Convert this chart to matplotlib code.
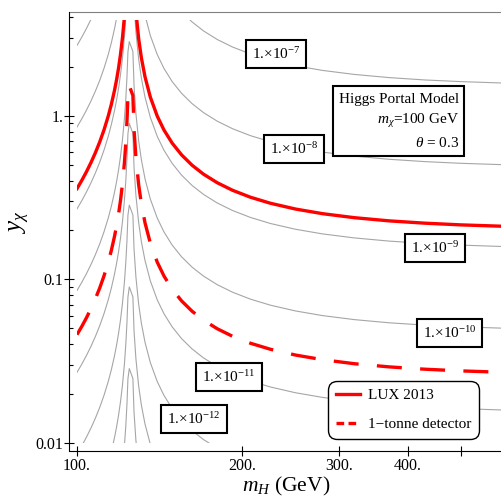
import matplotlib
matplotlib.use("Agg")
import matplotlib.pyplot as plt
from matplotlib.lines import Line2D
from matplotlib.patches import Rectangle
from matplotlib.ticker import FixedLocator, FixedFormatter, NullFormatter

plt.rcParams['font.family'] = ['Liberation Serif', 'DejaVu Serif']
plt.rcParams['mathtext.fontset'] = 'custom'
plt.rcParams['mathtext.rm'] = 'Liberation Serif'
plt.rcParams['mathtext.it'] = 'Liberation Serif:italic'

m_left = [100, 102, 104, 106, 108, 110, 112, 114, 115.5, 117, 118, 119, 120,
          121, 122, 122.7, 123.3, 123.8]
m_apex = [124.5, 126.4]
m_right = [127, 128, 129.5, 131, 133, 136, 140, 144, 149, 155, 162, 170, 180,
           192, 207, 225, 250, 280, 320, 370, 430, 500, 600]

# iso cross-section contours, y_chi values (left branch, apex, right branch)
c7 = ([2.694, 3.020, 3.409, 3.880, 4.463, 5.202, 6.171, 7.492, 8.850, 10.72, 12.41,
       14.66, 17.82, 22.55, 30.45, 40.05, 54.59, 77.79],
      [89.7, 78.1],
      [48.50, 32.72, 22.19, 16.93, 12.99, 9.764, 7.473, 6.149, 5.117, 4.335, 3.746,
       3.300, 2.927, 2.631, 2.386, 2.192, 2.021, 1.893, 1.789, 1.711, 1.655, 1.617, 1.584])
c8 = ([0.8528, 0.9559, 1.0789, 1.2281, 1.4125, 1.6465, 1.9530, 2.3712, 2.8009, 3.3915,
       3.9268, 4.640, 5.639, 7.138, 9.636, 12.68, 17.28, 24.62],
      [28.4, 24.7],
      [15.35, 10.354, 7.024, 5.360, 4.111, 3.090, 2.365, 1.946, 1.619, 1.372, 1.1855,
       1.0443, 0.9265, 0.8326, 0.7550, 0.6938, 0.6396, 0.5991, 0.5661, 0.5415, 0.5240,
       0.5117, 0.5015])
c9 = ([0.2694, 0.3020, 0.3409, 0.3880, 0.4463, 0.5202, 0.6171, 0.7492, 0.8850, 1.072,
       1.241, 1.466, 1.782, 2.255, 3.045, 4.005, 5.459, 7.779],
      [8.97, 7.81],
      [4.850, 3.272, 2.219, 1.693, 1.299, 0.9764, 0.7473, 0.6149, 0.5117, 0.4335, 0.3746,
       0.3300, 0.2927, 0.2631, 0.2386, 0.2192, 0.2021, 0.1893, 0.1789, 0.1711, 0.1655,
       0.1617, 0.1584])
c10 = ([0.08528, 0.09559, 0.10789, 0.12281, 0.14125, 0.16465, 0.19530, 0.23712, 0.28009,
        0.33915, 0.39268, 0.4640, 0.5639, 0.7138, 0.9636, 1.268, 1.728, 2.462],
       [2.84, 2.47],
       [1.535, 1.0354, 0.7024, 0.5360, 0.4111, 0.3090, 0.2365, 0.1946, 0.1619, 0.1372,
        0.11855, 0.10443, 0.09265, 0.08326, 0.07550, 0.06938, 0.06396, 0.05991, 0.05661,
        0.05415, 0.05240, 0.05117, 0.05015])
c11 = ([0.02694, 0.03020, 0.03409, 0.03880, 0.04463, 0.05202, 0.06171, 0.07492, 0.08850,
        0.1072, 0.1241, 0.1466, 0.1782, 0.2255, 0.3045, 0.4005, 0.5459, 0.7779],
       [0.897, 0.780],
       [0.4850, 0.3272, 0.2219, 0.1693, 0.1299, 0.09764, 0.07473, 0.06149, 0.05117,
        0.04335, 0.03746, 0.03300, 0.02927, 0.02631, 0.02386, 0.02192, 0.02021, 0.01893,
        0.01789, 0.01711, 0.01655, 0.01617, 0.01584])
c12 = ([0.008528, 0.009559, 0.010789, 0.012281, 0.014125, 0.016465, 0.019530, 0.023712,
        0.028009, 0.033915, 0.039268, 0.04640, 0.05639, 0.07138, 0.09636, 0.1268,
        0.1728, 0.2462],
       [0.284, 0.247],
       [0.1535, 0.10354, 0.07024, 0.05360, 0.04111, 0.03090, 0.02365, 0.01946, 0.01619,
        0.01372, 0.011855, 0.010443, 0.009265, 0.008326, 0.00755, 0.006938, 0.006396,
        0.005991, 0.005661, 0.005415, 0.00524, 0.005117, 0.005015])
c13 = ([0.002694, 0.00302, 0.003409, 0.00388, 0.004463, 0.005202, 0.006171, 0.007492,
        0.00885, 0.01072, 0.01241, 0.01466, 0.01782, 0.02255, 0.03045, 0.04005, 0.05459,
        0.07779],
       [0.0897, 0.078],
       [0.0485, 0.03272, 0.02219, 0.01693, 0.01299, 0.009764, 0.007473, 0.006149,
        0.005117, 0.004335, 0.003746, 0.0033, 0.002927, 0.002631, 0.002386, 0.002192,
        0.002021, 0.001893, 0.001789, 0.001711, 0.001655, 0.001617, 0.001584])
c14 = ([0.000853, 0.000956, 0.001079, 0.001228, 0.001413, 0.001647, 0.001953, 0.002371,
        0.002801, 0.003392, 0.003927, 0.00464, 0.005639, 0.007138, 0.009636, 0.01268,
        0.01728, 0.02462],
       [0.0284, 0.0247],
       [0.01535, 0.010354, 0.007024, 0.00536, 0.004111, 0.00309, 0.002365, 0.001946,
        0.001619, 0.001372, 0.001186, 0.001044, 0.000927, 0.000833, 0.000755, 0.000694,
        0.00064, 0.000599, 0.000566, 0.000542, 0.000524, 0.000512, 0.000502])

# exclusion curves
lux = ([0.3583, 0.4017, 0.4533, 0.5160, 0.5935, 0.6919, 0.8207, 0.9964, 1.1769, 1.4251,
        1.6500, 1.9498, 2.3696, 2.9993, 4.049, 5.326, 7.259, 10.34],
       [11.9, 10.4],
       [6.450, 4.351, 2.951, 2.252, 1.727, 1.2986, 0.9938, 0.8177, 0.6805, 0.5765, 0.4981,
        0.4388, 0.3893, 0.3498, 0.3172, 0.2915, 0.2687, 0.2517, 0.2379, 0.2275, 0.2202,
        0.2150, 0.2107])
tonne = ([0.04583, 0.05137, 0.05798, 0.06600, 0.07592, 0.08849, 0.10497, 0.12744, 0.15053,
          0.18228, 0.21105, 0.24939, 0.30309, 0.38363, 0.51789, 0.68126, 0.92853, 1.3232],
         [1.526, 1.328],
         [0.8250, 0.5565, 0.3775, 0.2881, 0.2209, 0.1661, 0.1271, 0.1046, 0.08704, 0.07374,
          0.06372, 0.05613, 0.04980, 0.04475, 0.04058, 0.03729, 0.03437, 0.03220, 0.03042,
          0.02910, 0.02816, 0.02750, 0.02695])

contours = [c7, c8, c9, c10, c11, c12, c13, c14]
label_text = ['1.×10$^{-7}$', '1.×10$^{-8}$', '1.×10$^{-9}$', '1.×10$^{-10}$',
              '1.×10$^{-11}$', '1.×10$^{-12}$']
# label box centres, figure pixels from top-left
label_px = [(276, 54), (294, 149), (435, 248), (449.5, 333), (229, 377), (194, 419)]

W, H = 502, 497
fig = plt.figure(figsize=(W / 100, H / 100), dpi=100, facecolor='w')
ax = fig.add_axes([69.5 / W, 1 - 451 / H, 1 - 69.5 / W, (451 - 12) / H])
ax.set_xscale('log')
ax.set_yscale('log')
ax.set_xlim(96.9, 594)
ax.set_ylim(0.0089, 4.31)

# region where the curves were computed
clip = Rectangle((100, 0.01), 500, 3.85 - 0.01, transform=ax.transData)

m_all = m_left + m_apex + m_right
for c in contours:
    ln, = ax.plot(m_all, c[0] + c[1] + c[2], color='#a6a6a6', lw=0.8)
    ln.set_clip_path(clip)

ln, = ax.plot(m_all, lux[0] + lux[1] + lux[2], color='red', lw=2.4)
ln.set_clip_path(clip)
ln, = ax.plot(m_all, tonne[0] + tonne[1] + tonne[2], color='red', lw=2.4,
              ls=(0, (7.5, 5.5)))
ln.set_clip_path(clip)

for txt, (px, py) in zip(label_text, label_px):
    fig.text(px / W, 1 - py / H, txt, fontsize=11, ha='center', va='center', zorder=5,
             bbox=dict(boxstyle='square,pad=0.38', fc='white', ec='black', lw=1.5))

# model info box
fig.patches.append(Rectangle((332.7 / W, 1 - 156 / H), (464.3 - 332.7) / W, 70 / H,
                             transform=fig.transFigure, fc='white', ec='black',
                             lw=1.5, zorder=5))
for txt, yy in [('Higgs Portal Model', 99), (r'$m_\chi$=100 GeV', 121),
                (r'$\theta$ = 0.3', 143)]:
    fig.text(459 / W, 1 - yy / H, txt, fontsize=11, ha='right', va='center', zorder=6)

handles = [Line2D([], [], color='red', lw=2.4),
           Line2D([], [], color='red', lw=2.4, ls=(0, (2.3, 1.3)))]
leg = ax.legend(handles, ['LUX 2013', '1\u2212tonne detector'], loc='upper left',
                bbox_to_anchor=(328 / W, 1 - 381 / H), bbox_transform=fig.transFigure,
                fontsize=11, handlelength=1.6, handletextpad=0.5, labelspacing=1.0,
                borderpad=0.5, borderaxespad=0, framealpha=1, fancybox=True)
leg.get_frame().set_edgecolor('black')
leg.get_frame().set_linewidth(1.0)
leg.get_frame().set_boxstyle('round', pad=0, rounding_size=0.6)
leg.set_zorder(6)

# frame and ticks
ax.spines['right'].set_visible(False)
ax.spines['top'].set_color('#808080')
ax.xaxis.set_major_locator(FixedLocator([100, 200, 300, 400, 500]))
ax.xaxis.set_major_formatter(FixedFormatter(['100.', '200.', '300.', '400.', '']))
ax.xaxis.set_minor_locator(FixedLocator([]))
ax.xaxis.set_minor_formatter(NullFormatter())
ax.yaxis.set_major_locator(FixedLocator([0.01, 0.1, 1]))
ax.yaxis.set_major_formatter(FixedFormatter(['0.01', '0.1', '1.']))
ax.yaxis.set_minor_locator(FixedLocator([k * d for d in (0.01, 0.1, 1) for k in range(2, 10)]))
ax.yaxis.set_minor_formatter(NullFormatter())
ax.tick_params(which='major', direction='inout', length=6.5, width=0.8, labelsize=11.5)
ax.tick_params(which='minor', direction='in', length=3, width=0.8)
ax.tick_params(axis='y', which='major', pad=1)
ax.tick_params(axis='x', which='major', pad=2)

ax.set_xlabel(r'$m_H$ (GeV)', fontsize=15.5)
ax.xaxis.set_label_coords(0.5, -0.055)
ax.set_ylabel(r'$y_\chi$', fontsize=18)
ax.yaxis.set_label_coords(-0.087, 0.52)

fig.savefig('out.png', dpi=100)
